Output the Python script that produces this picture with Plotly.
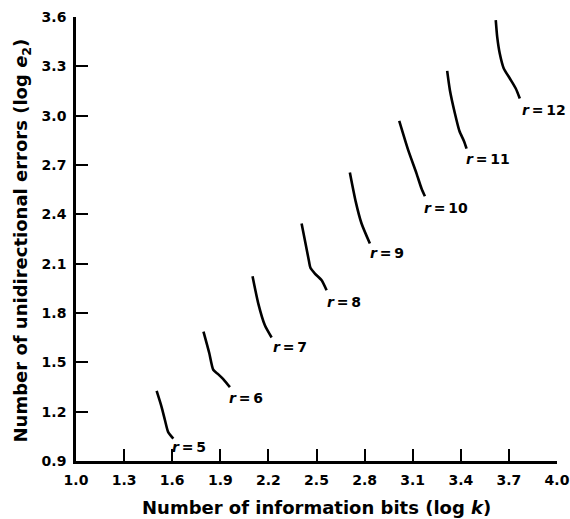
import plotly.graph_objects as go

# Curves for each r (log k, log e2)
r_values = [5, 6, 7, 8, 9, 10, 11, 12]
curve_x = {
    5: [1.503, 1.534, 1.555, 1.575, 1.607],
    6: [1.795, 1.831, 1.856, 1.883, 1.922, 1.960],
    7: [2.101, 2.137, 2.178, 2.220],
    8: [2.407, 2.430, 2.452, 2.462, 2.490, 2.532, 2.563],
    9: [2.708, 2.745, 2.781, 2.833],
    10: [3.016, 3.072, 3.124, 3.155, 3.176],
    11: [3.315, 3.332, 3.363, 3.392, 3.420, 3.436],
    12: [3.618, 3.627, 3.643, 3.668, 3.706, 3.743, 3.768],
}
curve_y = {
    5: [1.326, 1.228, 1.148, 1.076, 1.036],
    6: [1.687, 1.557, 1.455, 1.431, 1.394, 1.349],
    7: [2.023, 1.857, 1.725, 1.651],
    8: [2.344, 2.230, 2.121, 2.075, 2.040, 1.999, 1.938],
    9: [2.655, 2.476, 2.344, 2.222],
    10: [2.968, 2.790, 2.648, 2.557, 2.510],
    11: [3.272, 3.155, 3.015, 2.905, 2.845, 2.800],
    12: [3.581, 3.479, 3.378, 3.287, 3.226, 3.165, 3.104],
}
# Label anchor positions (left edge, middle)
label_x = [1.586, 1.939, 2.214, 2.552, 2.823, 3.161, 3.419, 3.772]
label_y = [0.985, 1.286, 1.593, 1.867, 2.162, 2.441, 2.739, 3.033]

x_ticks = [1.0, 1.3, 1.6, 1.9, 2.2, 2.5, 2.8, 3.1, 3.4, 3.7, 4.0]
y_ticks = [0.9, 1.2, 1.5, 1.8, 2.1, 2.4, 2.7, 3.0, 3.3, 3.6]
x_title = "Number of information bits (log <i>k</i>)"
y_title = "Number of unidirectional errors (log <i>e</i><sub>2</sub>)"

FONT = "DejaVu Sans"

fig = go.Figure()
for r in r_values:
    fig.add_trace(go.Scatter(
        x=curve_x[r], y=curve_y[r], mode="lines",
        line=dict(color="black", width=2.6, shape="spline", smoothing=0.6),
        showlegend=False, hoverinfo="skip",
    ))

annotations = []
for r, lx, ly in zip(r_values, label_x, label_y):
    annotations.append(dict(
        x=lx, y=ly, xref="x", yref="y", text=f"<i>r</i>\u2009=\u2009{r}",
        showarrow=False, xanchor="left", yanchor="middle",
        font=dict(family=FONT, size=14, color="black", weight="bold"),
    ))
annotations.append(dict(
    x=0.5, y=-0.104, xref="paper", yref="paper", text=x_title,
    showarrow=False, xanchor="center", yanchor="middle",
    font=dict(family=FONT, size=18, color="black", weight="bold"),
))
annotations.append(dict(
    x=-0.112, y=0.497, xref="paper", yref="paper", text=y_title,
    showarrow=False, xanchor="center", yanchor="middle", textangle=-90,
    font=dict(family=FONT, size=18, color="black", weight="bold"),
))

axis_common = dict(
    showline=True, linecolor="black", linewidth=2.6,
    ticks="inside", ticklen=12, tickwidth=2.4, tickcolor="black",
    showgrid=False, zeroline=False, automargin=False,
    tickfont=dict(family=FONT, size=14, color="black", weight="bold"),
)
fig.update_layout(
    width=570, height=519,
    margin=dict(l=76, r=13, t=17, b=58, autoexpand=False),
    paper_bgcolor="white", plot_bgcolor="white",
    xaxis=dict(range=[1.0, 4.0], tickvals=x_ticks,
               ticktext=[f"{v:.1f}" for v in x_ticks], ticklabelstandoff=4,
               **axis_common),
    yaxis=dict(range=[0.9, 3.6], tickvals=y_ticks,
               ticktext=[f"{v:.1f}" for v in y_ticks], ticklabelstandoff=4,
               **axis_common),
    annotations=annotations,
)
fig.write_html(
    "out.html",
    config={"displayModeBar": False},
    post_script="document.body.style.margin='0';document.body.style.overflow='hidden';",
)
